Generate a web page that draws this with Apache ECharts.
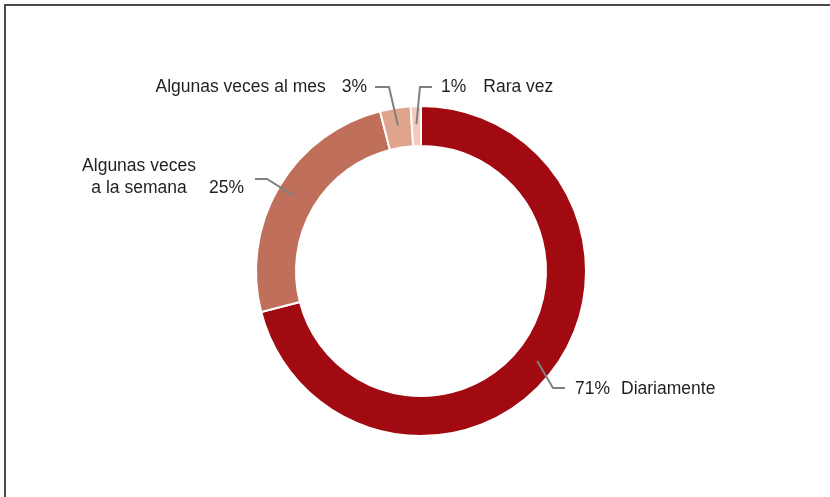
<!DOCTYPE html>
<html>
<head>
<meta charset="utf-8">
<script src="https://cdn.jsdelivr.net/npm/echarts@6/dist/echarts.min.js"></script>
<style>
  html, body { margin: 0; padding: 0; background: #fff; }
  #chart { width: 830px; height: 497px; }
</style>
</head>
<body>
<div id="chart"></div>
<script>
// datos de la encuesta (porcentaje)
const categories = ['Diariamente', 'Algunas veces a la semana', 'Algunas veces al mes', 'Rara vez'];
const shares = [71, 25, 3, 1];
const sliceColors = ['#A00A10', '#C0705A', '#E0A48C', '#F3CBBA'];

// geometria del anillo
const cx = 421, cy = 271;
const innerR = 125, outerR = 165;
const lineStartR = 147;
const fontSize = 17.5;

// donde se apoya cada etiqueta (codo de la linea y punto final)
const labelSpots = [
  { x: 575, y: 389, align: 'left',  elbow: [553, 388], end: [565, 388] },
  { x: 244, y: 177, align: 'right', elbow: [267, 179], end: [255, 179] },
  { x: 367, y: 87,  align: 'right', elbow: [389, 87],  end: [375, 87] },
  { x: 441, y: 87,  align: 'left',  elbow: [420, 87],  end: [432, 87] }
];

const total = shares.reduce((a, b) => a + b, 0);

// punto dentro del sector, a mitad de su angulo
function sliceAnchor(i) {
  let before = 0;
  for (let k = 0; k < i; k++) before += shares[k];
  const ang = (before + shares[i] / 2) / total * 2 * Math.PI;
  return [cx + lineStartR * Math.sin(ang), cy - lineStartR * Math.cos(ang)];
}

function labelText(p) {
  const pct = p.value + '%';
  switch (p.dataIndex) {
    case 0: return '{p0|' + pct + '}{n|' + p.name + '}';
    case 1: return '{a|Algunas veces}{g|}\n{a|a la semana}{q|' + pct + '}';
    case 2: return '{n|' + p.name + '}{p2|' + pct + '}';
    default: return '{p3|' + pct + '}{n|' + p.name + '}';
  }
}

const chart = echarts.init(document.getElementById('chart'));

const txt = { fontSize: fontSize, color: '#231F20' };

const ringData = categories.map((name, i) => ({
  name: name,
  value: shares[i],
  itemStyle: { color: sliceColors[i] }
}));

const pieBase = {
  type: 'pie',
  center: [cx, cy],
  radius: [innerR, outerR],
  startAngle: 90,
  clockwise: true,
  avoidLabelOverlap: false,
  emphasis: { disabled: true },
  silent: true
};

chart.setOption({
  backgroundColor: '#fff',
  animation: false,
  graphic: [{
    type: 'rect',
    shape: { x: 5, y: 5, width: 900, height: 600 },
    style: { fill: 'none', stroke: '#4a4a4a', lineWidth: 2 },
    silent: true
  }],
  series: [
    // anillo de color
    Object.assign({}, pieBase, {
      z: 2,
      itemStyle: { borderColor: '#fff', borderWidth: 2 },
      label: { show: false },
      labelLine: { show: false },
      data: ringData
    }),
    // mismo anillo transparente, solo para etiquetas y lineas encima
    Object.assign({}, pieBase, {
      z: 3,
      itemStyle: { color: 'rgba(0,0,0,0)', borderWidth: 0 },
      label: {
        show: true,
        position: 'outside',
        formatter: labelText,
        color: '#231F20',
        fontFamily: "'Liberation Sans', Arial, sans-serif",
        fontSize: fontSize,
        rich: {
          n: txt,
          p0: Object.assign({ padding: [0, 11, 0, 0] }, txt),
          p2: Object.assign({ padding: [0, 0, 0, 16] }, txt),
          p3: Object.assign({ padding: [0, 17, 0, 0] }, txt),
          a: Object.assign({ width: 116, align: 'center', lineHeight: 22 }, txt),
          g: { width: 47, lineHeight: 22 },
          q: Object.assign({ width: 47, align: 'right', lineHeight: 22 }, txt)
        }
      },
      labelLine: {
        show: true,
        lineStyle: { color: '#808080', width: 2 }
      },
      labelLayout: function (params) {
        const spot = labelSpots[params.dataIndex];
        return {
          x: spot.x,
          y: spot.y,
          align: spot.align,
          verticalAlign: 'middle',
          labelLinePoints: [sliceAnchor(params.dataIndex), spot.elbow, spot.end]
        };
      },
      data: ringData.map(d => ({ name: d.name, value: d.value }))
    })
  ]
});
</script>
</body>
</html>
